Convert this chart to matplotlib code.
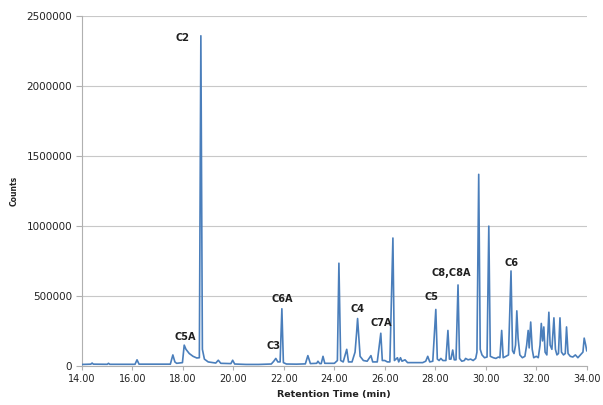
import matplotlib
matplotlib.use("Agg")
import matplotlib.pyplot as plt

# chromatogram trace (time in min, counts)
time_min = [
    14.00, 14.35, 14.40, 14.45, 15.00, 15.05, 15.10, 16.10, 16.18, 16.26,
    17.50, 17.60, 17.68, 17.75, 17.98, 18.05, 18.12, 18.25, 18.40, 18.55,
    18.65, 18.71, 18.77, 18.85, 19.00, 19.30, 19.40, 19.50, 19.90, 19.97,
    20.05, 20.50, 21.00, 21.50, 21.60, 21.68, 21.76, 21.85, 21.92, 21.98,
    22.10, 22.50, 22.85, 22.95, 23.05, 23.30, 23.35, 23.42, 23.48, 23.55,
    23.62, 24.00, 24.12, 24.18, 24.25, 24.35, 24.49, 24.56, 24.70, 24.82,
    24.88, 24.92, 24.96, 25.02, 25.15, 25.30, 25.45, 25.52, 25.70, 25.84,
    25.90, 26.00, 26.10, 26.20, 26.32, 26.38, 26.50, 26.55, 26.62, 26.68,
    26.80, 26.90, 27.20, 27.50, 27.62, 27.70, 27.78, 27.90, 28.02, 28.08,
    28.15, 28.22, 28.30, 28.42, 28.50, 28.56, 28.62, 28.69, 28.75, 28.82,
    28.90, 28.96, 29.05, 29.15, 29.20, 29.30, 29.40, 29.50, 29.60, 29.65,
    29.72, 29.78, 29.85, 29.95, 30.05, 30.12, 30.18, 30.30, 30.40, 30.50,
    30.56, 30.63, 30.69, 30.80, 30.90, 31.00, 31.06, 31.12, 31.18, 31.23,
    31.28, 31.35, 31.45, 31.55, 31.62, 31.68, 31.72, 31.78, 31.84, 31.90,
    32.00, 32.08, 32.15, 32.20, 32.25, 32.30, 32.35, 32.42, 32.50, 32.55,
    32.62, 32.70, 32.76, 32.82, 32.88, 32.94, 33.00, 33.08, 33.15, 33.20,
    33.26, 33.35, 33.45, 33.55, 33.65, 33.75, 33.85, 33.90, 33.96, 34.00,
]
counts = [
    12000, 14000, 22000, 14000, 13000, 20000, 13000, 13000, 45000, 14000,
    14000, 80000, 30000, 20000, 25000, 150000, 120000, 90000, 70000, 58000,
    60000, 2360000, 120000, 50000, 30000, 22000, 42000, 20000, 18000, 42000,
    15000, 12000, 12000, 15000, 35000, 55000, 30000, 30000, 410000, 25000,
    15000, 14000, 16000, 75000, 18000, 20000, 35000, 18000, 18000, 70000,
    20000, 20000, 40000, 735000, 40000, 30000, 120000, 30000, 30000, 100000,
    235000, 340000, 230000, 70000, 40000, 35000, 75000, 30000, 30000, 235000,
    40000, 40000, 30000, 30000, 915000, 40000, 60000, 30000, 60000, 35000,
    45000, 25000, 25000, 25000, 35000, 70000, 30000, 35000, 405000, 50000,
    40000, 55000, 40000, 40000, 255000, 50000, 50000, 115000, 45000, 45000,
    580000, 55000, 35000, 40000, 55000, 45000, 50000, 40000, 55000, 100000,
    1370000, 120000, 80000, 60000, 65000, 1000000, 70000, 60000, 55000, 65000,
    60000, 255000, 60000, 70000, 80000, 680000, 110000, 90000, 150000, 395000,
    200000, 80000, 60000, 70000, 150000, 255000, 130000, 315000, 120000, 60000,
    70000, 60000, 150000, 305000, 180000, 280000, 100000, 80000, 385000, 150000,
    120000, 345000, 120000, 80000, 90000, 345000, 100000, 80000, 90000, 280000,
    90000, 70000, 65000, 80000, 60000, 80000, 100000, 200000, 150000, 110000,
]

peak_names = ["C2", "C5A", "C3", "C6A", "C4", "C7A", "C5", "C8,C8A", "C6"]
label_t = [18.00, 18.08, 21.60, 21.92, 24.90, 25.84, 27.86, 28.65, 31.03]
label_c = [2343000, 207000, 143000, 479000, 407000, 307000, 493000, 664000, 736000]

x_ticks = [14, 16, 18, 20, 22, 24, 26, 28, 30, 32, 34]
y_ticks = [0, 500000, 1000000, 1500000, 2000000, 2500000]

fig = plt.figure(figsize=(6.03, 4.05), dpi=100)
ax = fig.add_axes([0.136, 0.096, 0.837, 0.864])

ax.plot(time_min, counts, color="#4a7ebb", lw=1.2, zorder=3)

for name, t, c in zip(peak_names, label_t, label_c):
    ax.text(t, c, name, ha="center", va="center", fontsize=7,
            fontweight="bold", color="#1f1f1f", zorder=4)

ax.set_xlim(14, 34)
ax.set_ylim(0, 2500000)
ax.set_xticks(x_ticks)
ax.set_xticklabels([f"{v:.2f}" for v in x_ticks])
ax.set_yticks(y_ticks)
ax.set_yticklabels([str(v) for v in y_ticks])

ax.yaxis.grid(True, color="#c8c8c8", lw=0.8)
ax.set_axisbelow(True)
for side in ("top", "right"):
    ax.spines[side].set_visible(False)
for side in ("left", "bottom"):
    ax.spines[side].set_color("#b0b0b0")
    ax.spines[side].set_linewidth(0.8)

ax.tick_params(axis="y", labelsize=7.5, colors="#b0b0b0", labelcolor="#222222",
               length=4, width=0.8, pad=3)
ax.tick_params(axis="x", labelsize=7, colors="#b0b0b0", labelcolor="#222222",
               length=3, width=0.8, pad=3)

ax.set_xlabel("Retention Time (min)", fontsize=6.8, fontweight="bold",
              color="#222222", labelpad=4)
ax.set_ylabel("Counts", fontsize=5.5, fontweight="bold", color="#222222",
              labelpad=6)

fig.savefig("out.png", dpi=100)
